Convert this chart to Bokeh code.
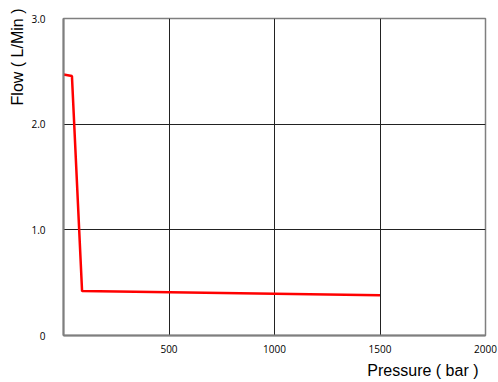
from bokeh.plotting import figure
from bokeh.models import Range1d, FixedTicker, Title
from bokeh.embed import file_html
from bokeh.resources import INLINE

# Data
pressure = [0, 40, 88, 1500]
flow = [2.47, 2.455, 0.42, 0.38]

x_ticks = [500, 1000, 1500, 2000]
x_tick_labels = {500: "500", 1000: "1000", 1500: "1500", 2000: "2000"}
y_ticks = [0, 1, 2, 3]
y_tick_labels = {0: "0", 1: "1.0", 2: "2.0", 3: "3.0"}
x_title = "Pressure ( bar )"
y_title = "Flow ( L/Min )"

p = figure(width=498, height=382, output_backend="svg", toolbar_location=None,
           x_range=Range1d(0, 2000), y_range=Range1d(0, 3),
           min_border_left=63, min_border_right=13, min_border_top=18, min_border_bottom=47)

p.line(pressure, flow, line_color="#ff0000", line_width=2.5)

tick_font = "Open Sans"
title_font = "Liberation Sans"

p.xaxis.ticker = FixedTicker(ticks=x_ticks)
p.xaxis.major_label_overrides = x_tick_labels
p.yaxis.ticker = FixedTicker(ticks=y_ticks)
p.yaxis.major_label_overrides = y_tick_labels

for ax in (p.xaxis, p.yaxis):
    ax.major_tick_line_color = None
    ax.minor_tick_line_color = None
    ax.axis_line_color = "#7f7f7f"
    ax.axis_line_width = 2
    ax.major_label_text_font = tick_font
    ax.major_label_text_font_size = "10px"
    ax.major_label_text_color = "#000000"

p.xaxis.major_label_standoff = 3
p.yaxis.major_label_standoff = 12

p.add_layout(Title(text=x_title, align="right", text_font=title_font,
                   text_font_size="16px", text_font_style="normal",
                   text_color="#000000", standoff=8, offset=7), "below")
p.add_layout(Title(text=y_title, align="right", text_font=title_font,
                   text_font_size="16px", text_font_style="normal",
                   text_color="#000000", standoff=6, offset=-10), "left")

p.xgrid.ticker = FixedTicker(ticks=[500, 1000, 1500])
p.ygrid.ticker = FixedTicker(ticks=[1, 2])
p.grid.grid_line_color = "#222222"
p.grid.grid_line_width = 1

p.outline_line_color = "#7f7f7f"
p.outline_line_width = 1.5
p.background_fill_color = "white"
p.border_fill_color = "white"

open("out.html", "w").write(file_html(p, INLINE))
